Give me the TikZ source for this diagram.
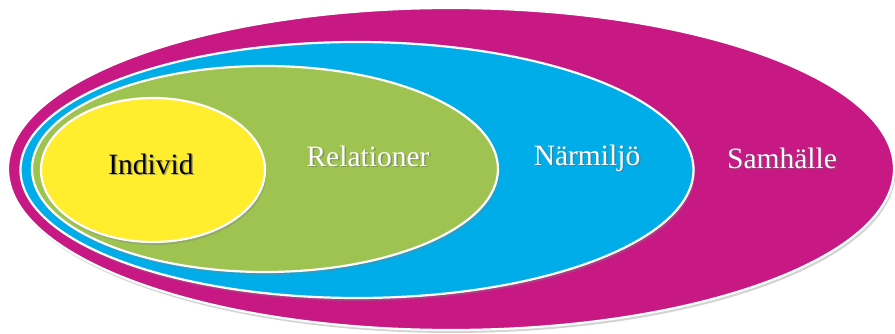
\documentclass[tikz,border=0pt]{standalone}
\usepackage{fontspec}
\setmainfont{Liberation Serif}
\usetikzlibrary{shapes.geometric,shadows}
\definecolor{cmag}{RGB}{200,24,132}
\definecolor{cblue}{RGB}{0,173,232}
\definecolor{cgreen}{RGB}{158,195,80}
\definecolor{cyel}{RGB}{255,237,46}
\tikzset{
  ring/.style={ellipse, draw=white, line width=2.2pt, inner sep=0pt,
    drop shadow={opacity=0.35, shadow xshift=1.5pt, shadow yshift=-3pt}},
  lbl/.style={font=\fontsize{29.5}{32}\selectfont, inner sep=0pt},
  lblshadow/.style={lbl, text=black!60, opacity=0.5}
}
\begin{document}
\begin{tikzpicture}[x=1pt,y=-1pt]
\useasboundingbox (0,0) rectangle (895,334);
\node[ring, fill=cmag, minimum width=886pt, minimum height=322pt] (samh) at (451,169) {};
\node[ring, fill=cblue, minimum width=673pt, minimum height=256pt] (narm) at (357,170) {};
\node[ring, fill=cgreen, minimum width=466pt, minimum height=206pt] (rel) at (265,169) {};
\node[ring, fill=cyel, minimum width=224pt, minimum height=144pt] (ind) at (153,170) {};
% text shadows
\node[lblshadow] at (152.5,165.5) {Individ};
\node[lblshadow] at (369.5,157.5) {Relationer};
\node[lblshadow] at (588.5,159.5) {Närmiljö};
\node[lblshadow] at (783.5,159.5) {Samhälle};
% labels
\node[lbl, text=black] (tind) at (151,164) {Individ};
\node[lbl, text=white] (trel) at (368,156) {Relationer};
\node[lbl, text=white] (tnar) at (587,158) {Närmiljö};
\node[lbl, text=white] (tsam) at (782,158) {Samhälle};
\end{tikzpicture}
\end{document}
